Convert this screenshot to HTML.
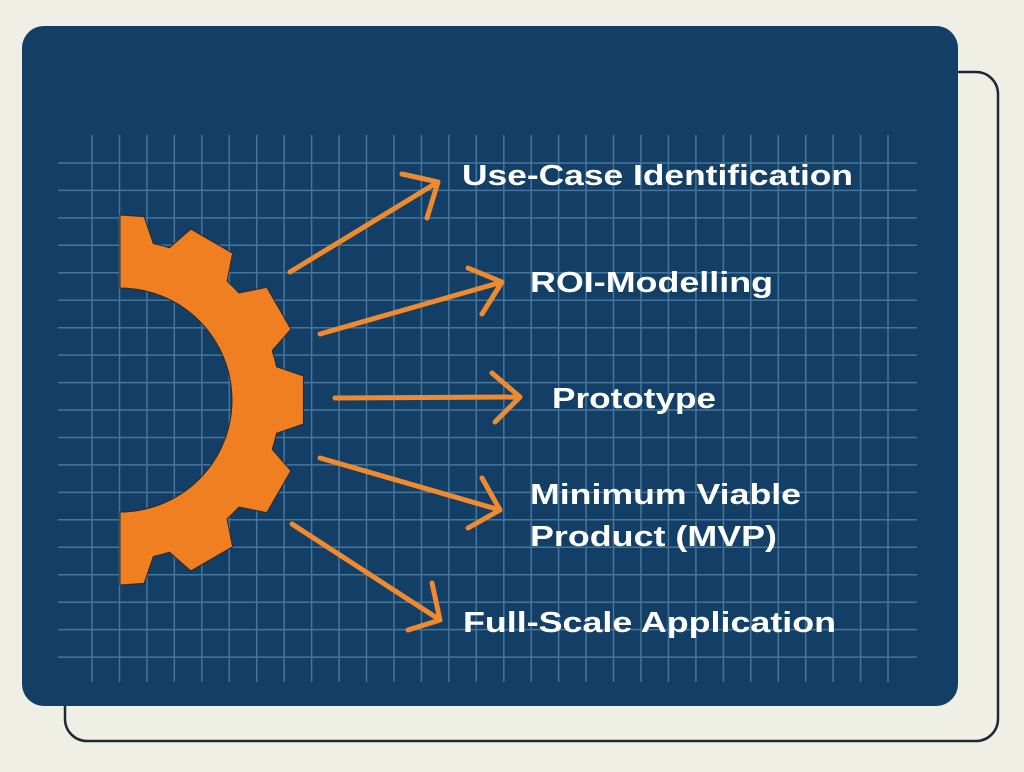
<!DOCTYPE html>
<html><head><meta charset="utf-8"><style>
html,body{margin:0;padding:0;background:#f0efe6;}
svg{display:block}
text{font-family:"Liberation Sans",sans-serif;font-weight:bold;fill:#fff;font-size:29px}
</style></head><body>
<svg width="1024" height="772" viewBox="0 0 1024 772" xmlns="http://www.w3.org/2000/svg">
<rect width="1024" height="772" fill="#f0efe6"/>
<rect x="65" y="72" width="933" height="669" rx="22" fill="none" stroke="#1c2a33" stroke-width="2.5"/>
<rect x="22" y="26" width="936" height="680" rx="22" fill="#133f66"/>
<g id="grid" stroke="#4f7fa6" stroke-width="1.5" opacity="0.85"></g>
<path id="gear" fill="#f07f22" stroke="#2a2a2a" stroke-width="1"/>
<g fill="none" stroke="#f08a2e" stroke-width="5" stroke-linecap="round" stroke-linejoin="round">
<path d="M290 272 L438 182 M402 174 L438 182 L427 218"/>
<path d="M320 334 L502 282 M468 268 L502 282 L482 314"/>
<path d="M335 398 L520 397 M492 373 L520 397 L495 422"/>
<path d="M320 458 L500 510 M482 478 L500 510 L468 528"/>
<path d="M292 524 L440 620 M432 583 L440 620 L408 630"/>
</g>
<text x="462" y="185" textLength="391" lengthAdjust="spacingAndGlyphs">Use-Case Identification</text>
<text x="530" y="292" textLength="243" lengthAdjust="spacingAndGlyphs">ROI-Modelling</text>
<text x="552" y="408" textLength="164" lengthAdjust="spacingAndGlyphs">Prototype</text>
<text x="530" y="504" textLength="271" lengthAdjust="spacingAndGlyphs">Minimum Viable</text>
<text x="530" y="546" textLength="247" lengthAdjust="spacingAndGlyphs">Product (MVP)</text>
<text x="463" y="632" textLength="373" lengthAdjust="spacingAndGlyphs">Full-Scale Application</text>
</svg>
<script>
(function(){
var g=document.getElementById('grid'),s='';
for(var i=0;i<=29;i++){var x=(92+i*27.45).toFixed(1);s+='<line x1="'+x+'" y1="135" x2="'+x+'" y2="682"/>';}
for(var j=0;j<=18;j++){var y=(163+j*27.45).toFixed(1);s+='<line x1="58" y1="'+y+'" x2="917" y2="'+y+'"/>';}
g.innerHTML=s;
var cx=120,cy=400,R=160,T=185,r=112;
function p(a,rad){a=a*Math.PI/180;return (cx+rad*Math.cos(a)).toFixed(1)+' '+(cy+rad*Math.sin(a)).toFixed(1);}
var d='M'+p(-90,T);
var centers=[-90,-60,-30,0,30,60,90];
for(var k=0;k<centers.length;k++){
 var c=centers[k];
 if(c>-90){d+=' L'+p(c-12,R)+' L'+p(c-7.5,T);}
 if(c<90){d+=' L'+p(c+7.5,T)+' L'+p(c+12,R);
  d+=' A'+R+' '+R+' 0 0 1 '+p(c+18,R);}
}
d+=' L'+p(90,T)+' L'+p(90,r)+' A'+r+' '+r+' 0 0 0 '+p(-90,r)+' Z';
document.getElementById('gear').setAttribute('d',d);
})();
</script>
</body></html>
